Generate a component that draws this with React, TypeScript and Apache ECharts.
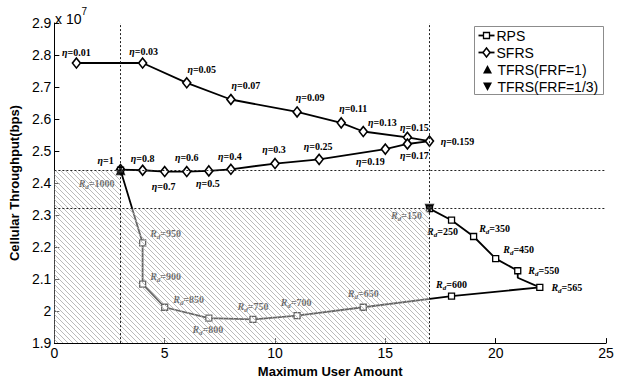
import React, { useEffect, useRef } from "react";
import * as echarts from "echarts";

// ---- data (throughput in units of 10^7 bps) ----
const xTickMin = 0;
const xTickMax = 25;
const yTickMin = 1.9;
const yTickMax = 2.9;

const sfrsEta = ["0.01", "0.03", "0.05", "0.07", "0.09", "0.11", "0.13", "0.15", "0.159", "0.17", "0.19", "0.25", "0.3", "0.4", "0.5", "0.6", "0.7", "0.8", "1"];
const sfrsUsers = [1, 4, 6, 8, 11, 13, 14, 16, 17, 16, 15, 12, 10, 8, 7, 6, 5, 4, 3];
const sfrsThroughput = [2.775, 2.775, 2.713, 2.661, 2.622, 2.588, 2.561, 2.543, 2.531, 2.522, 2.506, 2.474, 2.461, 2.443, 2.438, 2.436, 2.436, 2.44, 2.442];

const rpsRd = ["1000", "950", "900", "850", "800", "750", "700", "650", "600", "565", "", "550", "450", "350", "250", "150"];
const rpsUsers = [3, 4, 4, 5, 7, 9, 11, 14, 18, 22, 21, 21, 20, 19, 18, 17];
const rpsThroughput = [2.44, 2.213, 2.084, 2.012, 1.978, 1.974, 1.986, 2.012, 2.047, 2.074, 2.104, 2.126, 2.164, 2.233, 2.284, 2.32];

const tfrs1Users = [3];
const tfrs1Throughput = [2.44];
const tfrs13Users = [17];
const tfrs13Throughput = [2.32];

const thresholdUsers = [3, 17];
const thresholdThroughput = [2.44, 2.32];

// ---- label placement (pixel offsets from the mark centre) ----
const sfrsLabelOffsets = [
  [0, -11], [1, -12], [15, -13], [15, -14], [13, -14], [12, -14], [19, -9], [7, -9.5], [28, 0],
  [7, 12], [-15, 12], [-1, -13], [-1, -14], [-1, -13], [-1, 13], [0, -14], [-1, 15], [0, -12], [-15, -9],
];
const rpsLabelOffsets = [
  [-24, 13], [23, -9], [23, -8], [24, -8], [-1, 11], [0, -13], [-1, -13], [0, -14], [0, -12],
  [27, 0], [0, 0], [26, 0], [23, -9], [21, -8], [-9, 11], [-23, 7],
];

const SERIF = "'Liberation Serif', 'Times New Roman', serif";
const SANS = "'Liberation Sans', Arial, sans-serif";

function hatchPattern() {
  const svg =
    "<svg xmlns='http://www.w3.org/2000/svg' width='5' height='5'>" +
    "<rect width='5' height='5' fill='rgba(255,255,255,0.4)'/>" +
    "<path d='M0,0L5,5M-1,4L1,6M4,-1L6,1' stroke='#a8a8a8' stroke-width='0.8'/></svg>";
  return {
    image: "data:image/svg+xml;charset=utf-8," + encodeURIComponent(svg),
    repeat: "repeat",
    imageWidth: 5,
    imageHeight: 5,
  } as any;
}

export default function App() {
  const ref = useRef<HTMLDivElement>(null);

  useEffect(() => {
    if (!ref.current) return;
    const chart = echarts.init(ref.current, null, { renderer: "svg" });

    const etaRich = {
      e: { fontFamily: SERIF, fontStyle: "italic", fontWeight: "bold", fontSize: 10, color: "#000" },
      n: { fontFamily: SERIF, fontWeight: "bold", fontSize: 10, color: "#000" },
    };
    const rdRich = {
      r: { fontFamily: SERIF, fontStyle: "italic", fontWeight: "bold", fontSize: 10, color: "#000" },
      d: { fontFamily: SERIF, fontStyle: "italic", fontWeight: "bold", fontSize: 7, color: "#000", verticalAlign: "bottom", lineHeight: 14 },
      n: { fontFamily: SERIF, fontWeight: "bold", fontSize: 10, color: "#000" },
    };

    const sfrsData = sfrsUsers.map((u, i) => ({
      value: [u, sfrsThroughput[i]],
      label: {
        show: true,
        position: "inside",
        offset: sfrsLabelOffsets[i],
        formatter: "{e|η}{n|=" + sfrsEta[i] + "}",
        rich: etaRich,
      },
    }));

    const rpsData = rpsUsers.map((u, i) => {
      const hasLabel = rpsRd[i] !== "";
      return {
        value: [u, rpsThroughput[i]],
        symbol: hasLabel ? "rect" : "none",
        label: {
          show: hasLabel,
          position: "inside",
          offset: rpsLabelOffsets[i],
          formatter: "{r|R}{d|d}{n|=" + rpsRd[i] + "}",
          rich: rdRich,
        },
      };
    });

    const hatch = hatchPattern();

    const option: any = {
      animation: false,
      grid: { left: 53, right: 18, top: 23, bottom: 32, containLabel: false },
      xAxis: {
        type: "value",
        min: xTickMin,
        max: xTickMax,
        interval: 5,
        name: "Maximum User Amount",
        nameLocation: "middle",
        nameGap: 15,
        nameTextStyle: { fontFamily: SANS, fontWeight: "bold", fontSize: 13, color: "#000" },
        axisLine: { show: true, lineStyle: { color: "#000", width: 1 } },
        axisTick: { show: true, inside: true, length: 5, lineStyle: { color: "#000" } },
        axisLabel: { fontFamily: SANS, fontSize: 14, color: "#000", margin: 3 },
        splitLine: { show: false },
      },
      yAxis: {
        type: "value",
        min: yTickMin,
        max: yTickMax,
        interval: 0.1,
        name: "Cellular Throughput(bps)",
        nameLocation: "middle",
        nameGap: 19,
        nameTextStyle: { fontFamily: SANS, fontWeight: "bold", fontSize: 13, color: "#000" },
        axisLine: { show: true, lineStyle: { color: "#000", width: 1 } },
        axisTick: { show: true, inside: true, length: 5, lineStyle: { color: "#000" } },
        axisLabel: {
          fontFamily: SANS,
          fontSize: 14,
          color: "#000",
          margin: 3,
          formatter: (v: number) => String(Math.round(v * 10) / 10),
        },
        splitLine: { show: false },
      },
      series: [
        {
          name: "SFRS",
          type: "line",
          z: 2,
          data: sfrsData,
          symbol: "diamond",
          symbolSize: [8, 10],
          lineStyle: { color: "#000", width: 1.8 },
          itemStyle: { color: "#fff", borderColor: "#000", borderWidth: 1.6 },
        },
        {
          name: "RPS",
          type: "line",
          z: 2,
          data: rpsData,
          symbol: "rect",
          symbolSize: 6,
          lineStyle: { color: "#000", width: 1.8 },
          itemStyle: { color: "#fff", borderColor: "#000", borderWidth: 1.3 },
        },
        {
          name: "hatch",
          type: "line",
          z: 10,
          data: [],
          silent: true,
          markArea: {
            silent: true,
            z: 10,
            itemStyle: { color: hatch, borderWidth: 0 },
            label: { show: false },
            data: [
              [{ coord: [xTickMin, thresholdThroughput[1]] }, { coord: [thresholdUsers[0], thresholdThroughput[0]] }],
              [{ coord: [xTickMin, yTickMin] }, { coord: [thresholdUsers[1], thresholdThroughput[1]] }],
            ],
          },
        },
        {
          name: "thresholds",
          type: "line",
          z: 11,
          data: [],
          silent: true,
          markLine: {
            silent: true,
            z: 11,
            symbol: "none",
            label: { show: false },
            lineStyle: { color: "#222", width: 1, type: [2, 2] },
            data: [
              { xAxis: thresholdUsers[0] },
              { xAxis: thresholdUsers[1] },
              { yAxis: thresholdThroughput[0] },
              { yAxis: thresholdThroughput[1] },
            ],
          },
        },
        {
          name: "TFRS(FRF=1)",
          type: "scatter",
          z: 12,
          symbol: "triangle",
          symbolSize: 10,
          itemStyle: { color: "#000" },
          data: tfrs1Users.map((u, i) => [u, tfrs1Throughput[i]]),
        },
        {
          name: "TFRS(FRF=1/3)",
          type: "scatter",
          z: 12,
          symbol: "triangle",
          symbolRotate: 180,
          symbolSize: 10,
          itemStyle: { color: "#000" },
          data: tfrs13Users.map((u, i) => [u, tfrs13Throughput[i]]),
        },
      ],
      graphic: [
        {
          type: "text",
          left: 55,
          top: 6,
          style: {
            text: "{a|x 10}{b|7}",
            rich: {
              a: { fontFamily: SANS, fontSize: 14, color: "#000", verticalAlign: "bottom", lineHeight: 20 },
              b: { fontFamily: SANS, fontSize: 10, color: "#000", verticalAlign: "top", lineHeight: 20 },
            },
          },
        },
        {
          type: "group",
          left: 474,
          top: 26,
          children: [
            { type: "rect", shape: { x: 0, y: 0, width: 129, height: 68 }, style: { fill: "#fff", stroke: "#8c8c8c", lineWidth: 1 } },
            { type: "line", shape: { x1: 4, y1: 9, x2: 20, y2: 9 }, style: { stroke: "#000", lineWidth: 1.8 } },
            { type: "rect", shape: { x: 9, y: 6, width: 6, height: 6 }, style: { fill: "#fff", stroke: "#000", lineWidth: 1.3 } },
            { type: "text", x: 22, y: 9, style: { text: "RPS", fontFamily: SANS, fontSize: 14, fill: "#000", verticalAlign: "middle" } },
            { type: "line", shape: { x1: 4, y1: 26, x2: 20, y2: 26 }, style: { stroke: "#000", lineWidth: 1.8 } },
            { type: "polygon", shape: { points: [[12, 21.5], [15.5, 26], [12, 30.5], [8.5, 26]] }, style: { fill: "#fff", stroke: "#000", lineWidth: 1.5 } },
            { type: "text", x: 22, y: 26, style: { text: "SFRS", fontFamily: SANS, fontSize: 14, fill: "#000", verticalAlign: "middle" } },
            { type: "polygon", shape: { points: [[13, 38.5], [17.5, 47], [8.5, 47]] }, style: { fill: "#000" } },
            { type: "text", x: 23, y: 43, style: { text: "TFRS(FRF=1)", fontFamily: SANS, fontSize: 14, fill: "#000", verticalAlign: "middle" } },
            { type: "polygon", shape: { points: [[8.5, 56], [17.5, 56], [13, 64.5]] }, style: { fill: "#000" } },
            { type: "text", x: 23, y: 60, style: { text: "TFRS(FRF=1/3)", fontFamily: SANS, fontSize: 14, fill: "#000", verticalAlign: "middle" } },
          ],
        },
      ],
    };

    chart.setOption(option);
    return () => chart.dispose();
  }, []);

  return (
    <div
      ref={ref}
      style={{ position: "fixed", left: 0, top: 0, width: 624, height: 383, background: "#fff" }}
    />
  );
}
